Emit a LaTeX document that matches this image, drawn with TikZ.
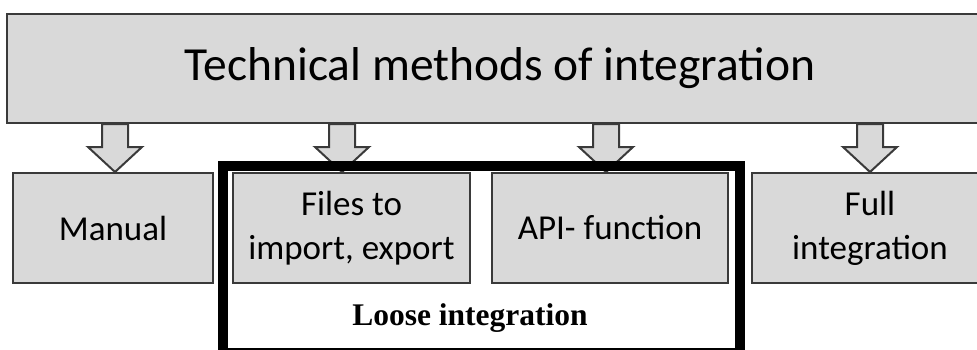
\documentclass[tikz,border=0pt]{standalone}
\usepackage{fontspec}
\setmainfont{Carlito}
\newfontfamily\tnr{Liberation Serif}
\usetikzlibrary{calc,backgrounds}
\definecolor{boxgray}{HTML}{D9D9D9}
\definecolor{edgegray}{HTML}{3A3A3A}
\tikzset{
  gbox/.style={draw=edgegray, line width=2pt, fill=boxgray, inner sep=0pt, align=center,
    font=\fontsize{35}{44}\selectfont, minimum height=110pt},
  blk/.style={draw=edgegray, line width=2pt, fill=boxgray, line join=miter},
  frame/.style={draw=black, line width=10pt, inner sep=0pt}
}
\newcommand\blockarrow[2]{%
  \draw[blk] let \p1=(top.south -| #1), \p2=(#2.north -| #1) in
    (\x1-13pt,\y1) -- (\x1-13pt,\y2+25pt) -- (\x1-27pt,\y2+25pt) -- (\x1,\y2)
    -- (\x1+27pt,\y2+25pt) -- (\x1+13pt,\y2+25pt) -- (\x1+13pt,\y1) -- cycle;}
\begin{document}
\begin{tikzpicture}[x=1pt,y=-1pt]
\useasboundingbox (0,0) rectangle (977,349);
\clip (0,0) rectangle (977,349);
\node[gbox, minimum width=986pt, minimum height=109pt, font=\fontsize{47.5}{56}\selectfont] (top) at (500,68.5) {Technical methods of integration};
\node[gbox, minimum width=200pt] (manual) at (113,228) {Manual};
\node[gbox, minimum width=237pt] (files) at (351.5,228) {Files to\\import, export};
\node[gbox, minimum width=236pt] (api) at (610,228) {API- function};
\node[gbox, minimum width=236pt] (full) at (870,228) {Full\\integration};
\coordinate (ca) at (115,0);
\coordinate (cb) at (342,0);
\coordinate (cc) at (606,0);
\coordinate (cd) at (870,0);
\begin{scope}[on background layer]
\blockarrow{ca}{manual}
\blockarrow{cb}{files}
\blockarrow{cc}{api}
\blockarrow{cd}{full}
\end{scope}
\node[frame, minimum width=517pt, minimum height=187pt] (loose) at (481.5,259.5) {};
\node[font=\tnr\bfseries\fontsize{31.5}{36}\selectfont, inner sep=0pt] (looselabel) at (470,318) {Loose integration};
\end{tikzpicture}
\end{document}
